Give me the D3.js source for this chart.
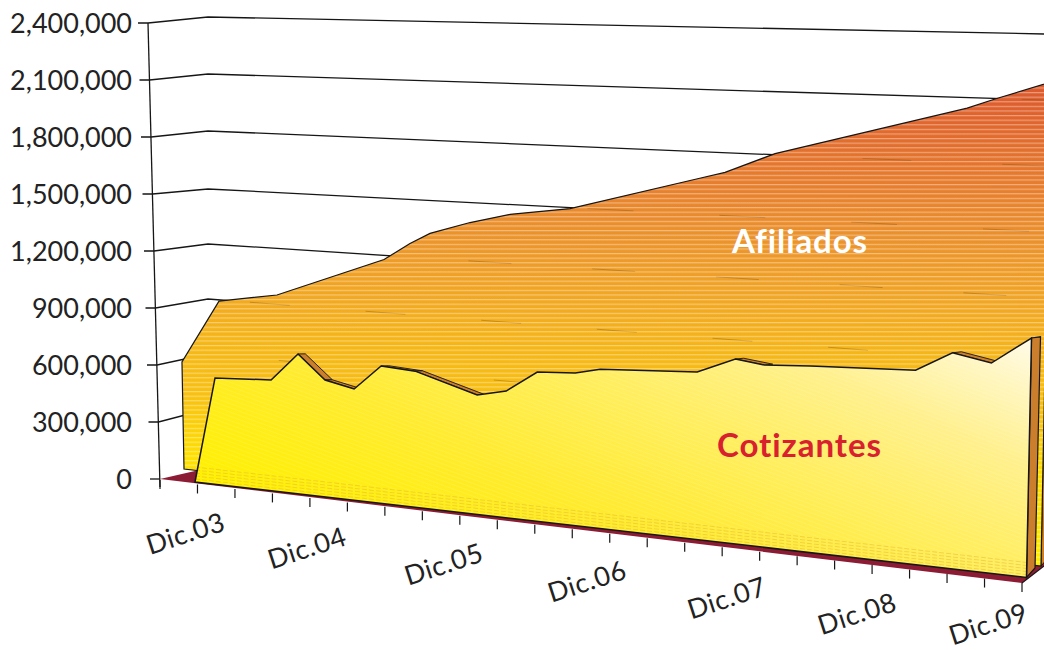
<!DOCTYPE html>
<html><head><meta charset="utf-8">
<script src="https://cdn.jsdelivr.net/npm/d3@7/dist/d3.min.js"></script>
<style>html,body{margin:0;padding:0;background:#fff;overflow:hidden}svg{display:block}
text{font-family:Lato,"Open Sans",sans-serif;font-variant-ligatures:none}</style></head><body>
<svg id="c" width="1044" height="650" viewBox="0 0 1044 650"></svg>
<script>
// ---- data ----
const valueTicks = [0,300000,600000,900000,1200000,1500000,1800000,2100000,2400000];
const categories = ["Dic.03","Dic.04","Dic.05","Dic.06","Dic.07","Dic.08","Dic.09"];
const categoryTickIndex = [0.76,4,7.65,11.47,15.2,18.68,22.18];
const tickCount = 24;
// months after Dic.03 for each vertex, and persons
const afiliadosMonths = [0,3.19,8.04,17.0,19.17,20.84,24.17,27.5,32.47,43.2,45.29,49.41,65.18,67.46,72];
const afiliadosValues = [573200,915400,971000,1195000,1286000,1344000,1411000,1464000,1509000,1690000,1724000,1825000,2072000,2118000,2203000];
const cotizantesMonths = [0,1.73,6.57,8.89,11.23,13.74,16.06,19.0,24.36,26.86,29.53,32.8,34.95,43.3,46.58,49.08,53.04,62.09,65.24,68.6,72];
const cotizantesValues = [0,557500,574600,721900,600500,568300,698100,687400,596000,629300,736900,748300,778300,804800,882300,865300,878800,899500,993100,960400,1088600];

// ---- scales: walls ----
const vDom=[0,2400000];
const axisY=d3.scaleLinear(vDom,[479,23]), axisX=d3.scaleLinear(vDom,[160,148]);
const cornerY=d3.scaleLinear(valueTicks,[468,409,354,299,244,189,131,74,17]); const cornerX=208;
const endY=d3.scaleLinear(vDom,[562,34]); const endX=1044;
const tickX=d3.scaleLinear([0,tickCount-1],[160,1022]);
const floorY=d3.scaleLinear([0,tickCount-1],[480,583]);
const fmt=d3.format(",");

// ---- series planes: project (months,value) to the screen ----
function plane(x0,x1,y0,y1,s0,s1,l0,l1){
  const tD=[0,72], bx=d3.scaleLinear(tD,[x0,x1]), by=d3.scaleLinear(tD,[y0,y1]),
        sc=d3.scaleLinear(tD,[s0,s1]), ln=d3.scaleLinear(tD,[l0,l1]);
  const h=(t,v)=>v/300000*sc(t);
  return {x:(t,v)=>bx(t)+ln(t)*h(t,v), y:(t,v)=>by(t)-h(t,v)};
}
const afP=plane(184,1041,469,566,56,65.9,-0.019,0.02);
const coP=plane(195,1026.5,482,577.5,57,66,0,0.0209);
const pts=(P,ms,vs)=>ms.map((t,i)=>[P.x(t,vs[i]),P.y(t,vs[i])]);
const line=d3.line();

const svg=d3.select("#c"), defs=svg.append("defs");
function grad(id,c,stops){
  const g=defs.append("linearGradient").attr("id",id).attr("gradientUnits","userSpaceOnUse")
    .attr("x1",c[0]).attr("y1",c[1]).attr("x2",c[2]).attr("y2",c[3]);
  stops.forEach(s=>g.append("stop").attr("offset",s[0]).attr("stop-color",s[1]));
}
grad("gAf",[400,570,410,80],[[0,"#ffee00"],[0.22,"#ffe000"],[0.35,"#f8c012"],[0.46,"#f5b618"],[0.57,"#f1a624"],[0.72,"#ea8e2e"],[0.86,"#e4742e"],[1,"#dd5c2e"]]);
grad("gCo",[200,480,396,50],[[0,"#fff000"],[0.3,"#ffeb30"],[0.55,"#ffee60"],[0.75,"#fff08c"],[0.9,"#fff6c0"],[1,"#fffbe8"]]);
const pS=defs.append("pattern").attr("id","stripes").attr("patternUnits","userSpaceOnUse").attr("width",8).attr("height",4.6);
pS.append("rect").attr("y",0).attr("width",8).attr("height",1.2).attr("fill","#fff").attr("opacity",0.38);
const pH=defs.append("pattern").attr("id","hatch").attr("patternUnits","userSpaceOnUse").attr("width",4).attr("height",4).attr("patternTransform","rotate(20)");
pH.append("rect").attr("width",4).attr("height",1).attr("fill","#fff").attr("opacity",0.10);

// ---- walls ----
const ink="#161616";
const wall=svg.append("g").attr("fill","none").attr("stroke",ink).attr("stroke-width",1.3);
wall.selectAll("path").data(valueTicks.filter(v=>v>0)).join("path")
  .attr("d",v=>line([[axisX(v)-10,axisY(v)],[axisX(v),axisY(v)],[cornerX,cornerY(v)],[endX,endY(v)]]));
wall.append("path").attr("d",line([[axisX(0)-10,axisY(0)],[axisX(0),axisY(0)]]));
wall.append("path").attr("d",line([[axisX(2400000),axisY(2400000)],[axisX(0),axisY(0)+8]]));

// ---- floor ----
svg.append("path").attr("fill","#8c1c34")
  .attr("d",line([[tickX(0),axisY(0)],[cornerX,cornerY(0)],[endX,endY(0)],[endX,floorY(tickCount-1)-17],[tickX(tickCount-1),floorY(tickCount-1)]])+"Z");
svg.append("path").attr("fill","none").attr("stroke",ink).attr("stroke-width",1.2)
  .attr("d",line([[tickX(tickCount-1),floorY(tickCount-1)],[endX,floorY(tickCount-1)-17]]));

// ---- Afiliados ----
const afTop=pts(afP,afiliadosMonths,afiliadosValues);
const afPoly=[[afP.x(0,0),afP.y(0,0)],...afTop,[afP.x(72,0),afP.y(72,0)]];
const afLast=afTop[afTop.length-1], afBase=afPoly[afPoly.length-1];
const sideColor="#cb7f2d";
svg.append("path").attr("fill",sideColor).attr("stroke",ink)
  .attr("d",line([afBase,afLast,[afLast[0]+9,afLast[1]-3],[afBase[0]+8,afBase[1]-9]])+"Z");
defs.append("clipPath").attr("id","afClip").append("path").attr("d",line(afPoly)+"Z");
svg.append("path").attr("d",line(afPoly)+"Z").attr("fill","url(#gAf)");
// wall rules faintly showing through the shaded face
svg.append("g").attr("clip-path","url(#afClip)").attr("fill","none").attr("stroke","#7a4a08").attr("stroke-width",0.9).attr("opacity",0.38)
  .selectAll("path").data(valueTicks.filter(v=>v>0&&v<2400000)).join("path")
  .attr("stroke-dasharray",(v,i)=>`${34+i*3} ${66+i*5}`).attr("stroke-dashoffset",(v,i)=>i*37)
  .attr("d",v=>line([[cornerX,cornerY(v)],[endX,endY(v)]]));
svg.append("path").attr("d",line(afPoly)+"Z").attr("fill","url(#stripes)");
svg.append("path").attr("d",line(afPoly)+"Z").attr("fill","none").attr("stroke",ink).attr("stroke-width",1.2);

// ---- Cotizantes ----
const coTop=pts(coP,cotizantesMonths,cotizantesValues);
const depthX=d3.scaleLinear([0,72],[7,9]), depthY=d3.scaleLinear([0,72],[0,-1.2]);
const off=(i)=>[coTop[i][0]+depthX(cotizantesMonths[i]),coTop[i][1]+depthY(cotizantesMonths[i])];
const seg=d3.range(coTop.length-1).filter(i=>(coTop[i+1][1]-coTop[i][1])/(coTop[i+1][0]-coTop[i][0])>0.1);
svg.append("g").attr("fill",sideColor).attr("stroke",ink).attr("stroke-width",0.9)
  .selectAll("path").data(seg).join("path")
  .attr("d",i=>line([coTop[i],coTop[i+1],off(i+1),off(i)])+"Z");
const coN=coTop.length-1, coBase=[coP.x(72,0),coP.y(72,0)];
svg.append("path").attr("fill",sideColor).attr("stroke",ink).attr("stroke-width",1.2)
  .attr("d",line([coBase,coTop[coN],off(coN),[coBase[0]+8.5,coBase[1]-9.5]])+"Z");
const coPoly=[...coTop,coBase];
svg.append("path").attr("d",line(coPoly)+"Z").attr("fill","url(#gCo)");
svg.append("path").attr("d",line(coPoly)+"Z").attr("fill","url(#hatch)");
defs.append("clipPath").attr("id","coClip").append("path").attr("d",line(coPoly)+"Z");
svg.append("g").attr("clip-path","url(#coClip)").attr("fill","none").attr("stroke","#e2b028").attr("stroke-width",0.8).attr("opacity",0.55).attr("stroke-dasharray","5 2")
  .selectAll("path").data([3,6,9,12,15]).join("path")
  .attr("d",k=>line([[coP.x(0,0),coP.y(0,0)-k],[coBase[0],coBase[1]-k]]));
svg.append("path").attr("d",line(coPoly)+"Z").attr("fill","none").attr("stroke",ink).attr("stroke-width",1.5).attr("stroke-linejoin","miter");

// ---- ticks and labels ----
svg.append("g").attr("stroke",ink).attr("stroke-width",1.2).selectAll("line").data(d3.range(tickCount)).join("line")
  .attr("x1",i=>tickX(i)).attr("x2",i=>tickX(i)).attr("y1",i=>floorY(i)).attr("y2",i=>floorY(i)+9);
svg.append("g").selectAll("text").data(valueTicks).join("text")
  .attr("x",132).attr("y",v=>axisY(v)+10).attr("text-anchor","end")
  .attr("font-size",27).attr("font-weight",400).attr("fill","#222").text(v=>fmt(v));
svg.append("g").selectAll("text").data(categories).join("text")
  .attr("text-anchor","middle").attr("font-size",27).attr("font-weight",400).attr("letter-spacing",0.6).attr("fill","#222")
  .attr("transform",(c,i)=>`translate(${tickX(categoryTickIndex[i])},${Math.min(floorY(categoryTickIndex[i])+59,633)}) rotate(-18)`)
  .text(c=>c);
svg.append("text").attr("x",799.5).attr("y",253).attr("text-anchor","middle").attr("font-size",33).attr("font-weight",700).attr("fill","#fff").attr("textLength",135).text("Afiliados");
svg.append("text").attr("x",799).attr("y",457).attr("text-anchor","middle").attr("font-size",33).attr("font-weight",700).attr("fill","#d8202f").attr("textLength",164).text("Cotizantes");
</script></body></html>
